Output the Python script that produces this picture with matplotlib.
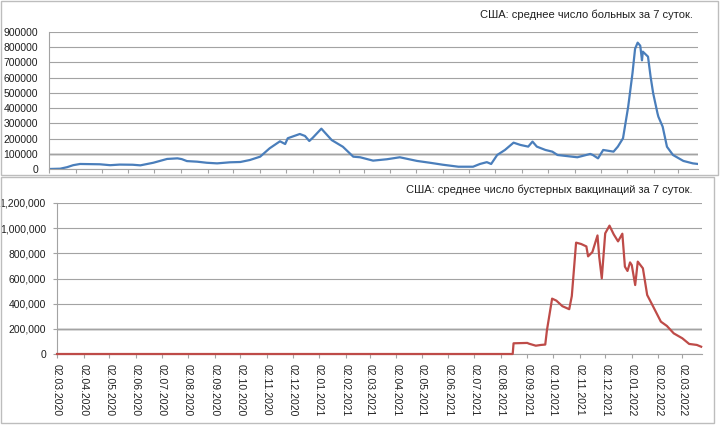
import matplotlib
matplotlib.use('Agg')
import matplotlib.pyplot as plt
import matplotlib.dates as mdates
from matplotlib.patches import Rectangle
from matplotlib.ticker import FuncFormatter
import pandas as pd

plt.rcParams['font.family'] = ['Liberation Sans', 'DejaVu Sans']
plt.rcParams['font.size'] = 7.5

# США: среднее число больных за 7 суток
case_dates = [
    '2020-03-02', '2020-03-15', '2020-03-23', '2020-03-30', '2020-04-07',
    '2020-04-30', '2020-05-12', '2020-05-23', '2020-06-07', '2020-06-16',
    '2020-07-01', '2020-07-17', '2020-07-29', '2020-08-03', '2020-08-09',
    '2020-08-21', '2020-09-01', '2020-09-13', '2020-09-28', '2020-10-10',
    '2020-10-21', '2020-11-02', '2020-11-13', '2020-11-25', '2020-12-01',
    '2020-12-04', '2020-12-18', '2020-12-24', '2020-12-29', '2021-01-02',
    '2021-01-12', '2021-01-24', '2021-02-06', '2021-02-18', '2021-02-26',
    '2021-03-13', '2021-03-29', '2021-04-13', '2021-05-03', '2021-05-18',
    '2021-06-02', '2021-06-20', '2021-07-07', '2021-07-15', '2021-07-23',
    '2021-07-28', '2021-08-04', '2021-08-13', '2021-08-23', '2021-08-31',
    '2021-09-09', '2021-09-14', '2021-09-19', '2021-09-29', '2021-10-07',
    '2021-10-13', '2021-11-05', '2021-11-20', '2021-11-23', '2021-11-29',
    '2021-12-05', '2021-12-17', '2021-12-22', '2021-12-28', '2022-01-03',
    '2022-01-08', '2022-01-11', '2022-01-14', '2022-01-17', '2022-01-19',
    '2022-01-20', '2022-01-26', '2022-01-29', '2022-02-01', '2022-02-06',
    '2022-02-07', '2022-02-12', '2022-02-17', '2022-02-24', '2022-03-08',
    '2022-03-19', '2022-03-25',
]
case_values = [
    0, 2000, 12000, 25000, 33000,
    31000, 25000, 29000, 28000, 24000,
    41000, 66000, 70000, 65000, 52000,
    48000, 41000, 37000, 44000, 46000,
    59000, 81000, 136000, 182000, 164000,
    202000, 230000, 217000, 184000, 205000,
    265000, 190000, 146000, 81000, 77000,
    55000, 64000, 77000, 53000, 41000,
    28000, 15000, 15000, 33000, 45000,
    33000, 92000, 125000, 173000, 158000,
    147000, 180000, 147000, 125000, 114000,
    92000, 77000, 99000, 92000, 70000,
    125000, 114000, 147000, 202000, 409000,
    630000, 790000, 830000, 810000, 714000,
    771000, 738000, 606000, 497000, 366000,
    344000, 278000, 146000, 92000, 53000,
    37000, 33000,
]

# США: среднее число бустерных вакцинаций за 7 суток
boost_dates = [
    '2020-03-02', '2021-08-16', '2021-08-17', '2021-09-02', '2021-09-04',
    '2021-09-12', '2021-09-18', '2021-09-23', '2021-09-25', '2021-10-01',
    '2021-10-06', '2021-10-13', '2021-10-21', '2021-10-24', '2021-10-29',
    '2021-11-04', '2021-11-10', '2021-11-12', '2021-11-17', '2021-11-23',
    '2021-11-25', '2021-11-28', '2021-12-02', '2021-12-07', '2021-12-12',
    '2021-12-17', '2021-12-22', '2021-12-25', '2021-12-28', '2021-12-31',
    '2022-01-02', '2022-01-06', '2022-01-09', '2022-01-15', '2022-01-20',
    '2022-01-26', '2022-02-05', '2022-02-12', '2022-02-20', '2022-03-02',
    '2022-03-10', '2022-03-19', '2022-03-24',
]
boost_values = [
    0, 0, 85000, 88000, 82000,
    66000, 72000, 75000, 190000, 440000,
    424000, 380000, 356000, 460000, 885000,
    874000, 855000, 776000, 810000, 942000,
    773000, 601000, 959000, 1020000, 950000,
    895000, 956000, 694000, 660000, 728000,
    707000, 548000, 734000, 681000, 469000,
    390000, 257000, 223000, 164000, 125000,
    80000, 72000, 58000,
]

W, H = 720, 425
fig = plt.figure(figsize=(W / 100, H / 100), dpi=100)
fig.patch.set_facecolor('white')


def px_axes(x0, y0, x1, y1):
    return fig.add_axes([x0 / W, 1 - y1 / H, (x1 - x0) / W, (y1 - y0) / H])


def frame(x0, y0, x1, y1):
    fig.add_artist(Rectangle((x0 / W, 1 - y1 / H), (x1 - x0) / W, (y1 - y0) / H,
                             transform=fig.transFigure, fill=False,
                             ec='#bdbdbd', lw=1.0))


frame(0.5, 0.5, 718, 175)
frame(0.5, 177, 714, 423)

grid_c = '#a3a3a3'
txt_c = '#1f1f1f'
x_start = pd.Timestamp('2020-03-02')
x_end = pd.Timestamp('2022-03-25')
month_loc = mdates.MonthLocator(bymonthday=2)


def style(ax):
    for s in ('top', 'right'):
        ax.spines[s].set_visible(False)
    for s in ('left', 'bottom'):
        ax.spines[s].set_color(grid_c)
        ax.spines[s].set_linewidth(0.8)
    ax.yaxis.grid(True, color=grid_c, lw=0.8)
    ax.set_axisbelow(True)
    ax.tick_params(axis='both', colors=grid_c, labelcolor=txt_c, direction='out',
                   length=3, width=0.8, pad=2)
    ax.set_xlim(x_start, x_end)
    ax.xaxis.set_major_locator(month_loc)


# верхний график
ax1 = px_axes(49, 32, 698, 169)
ax1.plot(pd.to_datetime(case_dates), case_values, color='#4a7ebb', lw=1.6)
style(ax1)
ax1.set_ylim(0, 900000)
ax1.set_yticks(range(0, 900001, 100000))
ax1.yaxis.set_major_formatter(FuncFormatter(lambda v, p: f'{int(v)}'))
ax1.tick_params(axis='y', length=0, pad=8)
ax1.set_xticklabels([])
ax1.axhline(100000, color='#d0d0d0', lw=1.8, zorder=0.5)
fig.text(693 / W, 1 - 15 / H, 'США: среднее число больных за 7 суток.',
         ha='right', va='center', color=txt_c, fontsize=8)

# нижний график
ax2 = px_axes(57, 203, 702, 354)
ax2.plot(pd.to_datetime(boost_dates), boost_values, color='#be4b48', lw=1.6,
         clip_on=False, zorder=3)
style(ax2)
ax2.set_ylim(0, 1200000)
ax2.set_yticks(range(0, 1200001, 200000))
ax2.yaxis.set_major_formatter(FuncFormatter(lambda v, p: f'{int(v):,}'))
ax2.tick_params(axis='y', pad=5)
ax2.tick_params(axis='x', pad=4)
ax2.axhline(200000, color='#d0d0d0', lw=1.8, zorder=0.5)
ax2.xaxis.set_major_formatter(mdates.DateFormatter('%d.%m.%Y'))
for lbl in ax2.get_xticklabels():
    lbl.set_rotation(-90)
    lbl.set_ha('center')
    lbl.set_va('top')
fig.text(693 / W, 1 - 190 / H,
         'США: среднее число бустерных вакцинаций за 7 суток.',
         ha='right', va='center', color=txt_c, fontsize=8)

fig.savefig('out.png', dpi=100)
